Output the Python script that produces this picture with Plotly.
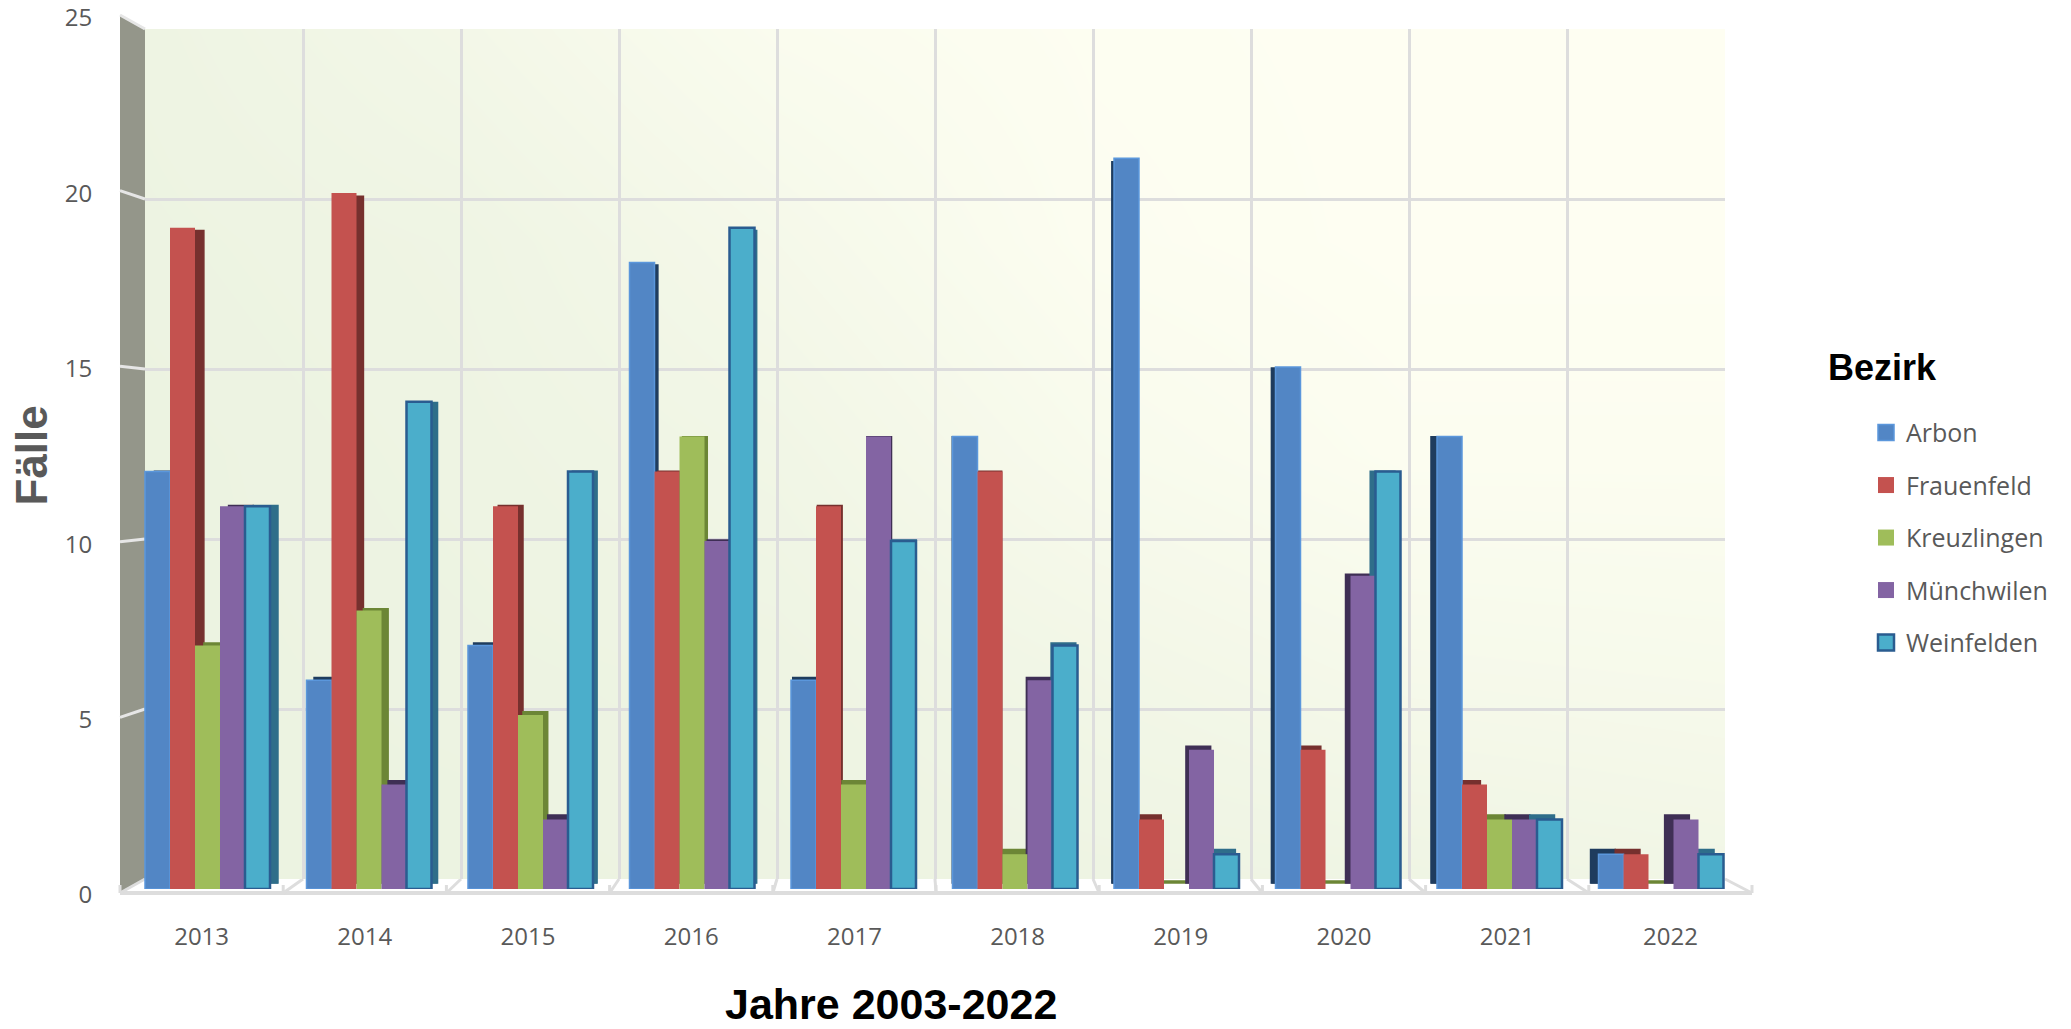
import plotly.graph_objects as go

YEARS = [2013, 2014, 2015, 2016, 2017, 2018, 2019, 2020, 2021, 2022]
DISTRICTS = ["Arbon", "Frauenfeld", "Kreuzlingen", "Münchwilen", "Weinfelden"]
ARBON = [12, 6, 7, 18, 6, 13, 21, 15, 13, 1]
FRAUENFELD = [19, 20, 11, 12, 11, 12, 2, 4, 3, 1]
KREUZLINGEN = [7, 8, 5, 13, 3, 1, 0, 0, 2, 0]
MUENCHWILEN = [11, 3, 2, 10, 13, 6, 4, 9, 2, 2]
WEINFELDEN = [11, 14, 12, 19, 10, 7, 1, 12, 2, 1]
SERIES = [ARBON, FRAUENFELD, KREUZLINGEN, MUENCHWILEN, WEINFELDEN]

FRONT = ["#5286C5", "#C4524F", "#9FBD5A", "#8364A3", "#4BAECB"]
SIDE = ["#1F3C5E", "#76302E", "#6C8636", "#3F2F55", "#2F6E8A"]
EDGE = ["#5B97DC", "#C4524F", "#9FBD5A", "#8364A3", "#2A5C90"]
EDGE_W = [1.5, 0, 0, 0, 2.5]

# back wall tint, rows top to bottom (0 = green-grey, 1 = pale yellow)
WALL_TINT = [
    [.15, .40, .75, .90, .95, .95],
    [.10, .20, .50, .85, .95, .95],
    [.05, .15, .30, .65, .85, .85],
    [.05, .10, .15, .35, .55, .60],
    [.05, .05, .10, .15, .20, .30],
]

W, H = 2071, 1029
px = lambda x: x / W
py = lambda y: 1 - y / H
CX, CY, K = 935, 454, 0.988   # vanishing centre and bar depth ratio
GRID = "#DDDDDD"
TEXT = "#595959"
BAR_W = 25 / 161.5

# plane boxes in pixels: left, right, bottom(value 0), top(value 25)
WALL = (145, 1725, 879, 29)
OUTER = (120, 1752, 893, 15)
BAR_FRONT = (126.75, 1741.75, 889, 19)
BAR_BACK = (CX + (BAR_FRONT[0] - CX) * K, CX + (BAR_FRONT[1] - CX) * K,
            CY + (BAR_FRONT[2] - CY) * K, CY + (BAR_FRONT[3] - CY) * K)
LABELS = (120, 1752, 895, 18)

XR = [YEARS[0] - .5, YEARS[-1] + .5]
YR = [0, 25]


def axes(box, n, **extra):
    sx = "" if n == 1 else str(n)
    xa = dict(domain=[px(box[0]), px(box[1])], range=XR, visible=False, anchor="y" + sx, fixedrange=True)
    ya = dict(domain=[py(box[2]), py(box[3])], range=YR, visible=False, anchor="x" + sx, fixedrange=True)
    return {"xaxis" + sx: xa, "yaxis" + sx: ya}


fig = go.Figure()
layout_axes = {}
layout_axes.update(axes(WALL, 1))
layout_axes.update(axes(WALL, 2))
layout_axes.update(axes(BAR_BACK, 3))
layout_axes.update(axes(BAR_FRONT, 4))
layout_axes.update(axes(LABELS, 5))

# wall tint
nx, ny = len(WALL_TINT[0]), len(WALL_TINT)
fig.add_trace(go.Heatmap(
    x=[XR[0] + (XR[1] - XR[0]) * i / (nx - 1) for i in range(nx)],
    y=[YR[1] - (YR[1] - YR[0]) * j / (ny - 1) for j in range(ny)],
    z=WALL_TINT, zmin=0, zmax=1, zsmooth="best", showscale=False, hoverinfo="skip",
    colorscale=[[0, "#EBF2E0"], [1, "#FFFFF3"]], xaxis="x", yaxis="y"))

# wall grid
layout_axes["xaxis2"].update(visible=True, showticklabels=False, ticks="", showline=False, zeroline=False,
                             tick0=XR[0], dtick=1, showgrid=True, gridcolor=GRID, gridwidth=3)
layout_axes["yaxis2"].update(visible=True, showticklabels=False, ticks="", showline=False, zeroline=False,
                             tick0=0, dtick=5, showgrid=True, gridcolor=GRID, gridwidth=3)
fig.add_trace(go.Scatter(x=[None], y=[None], xaxis="x2", yaxis="y2", showlegend=False, hoverinfo="skip"))

for i, (name, vals) in enumerate(zip(DISTRICTS, SERIES)):
    off = (i - 2.5) * BAR_W
    fig.add_trace(go.Bar(x=YEARS, y=vals, offset=off, width=BAR_W, xaxis="x3", yaxis="y3",
                         marker=dict(color=SIDE[i], line=dict(color=SIDE[i], width=[7 if v == 0 else 1.5 for v in vals])),
                         showlegend=False, legendgroup=name, hoverinfo="skip"))
for i, (name, vals) in enumerate(zip(DISTRICTS, SERIES)):
    off = (i - 2.5) * BAR_W
    fig.add_trace(go.Bar(x=YEARS, y=vals, offset=off, width=BAR_W, xaxis="x4", yaxis="y4", name=name,
                         marker=dict(color=FRONT[i], line=dict(color=EDGE[i], width=EDGE_W[i])),
                         showlegend=False, legendgroup=name))

# labels plane
layout_axes["xaxis5"].update(visible=True, tickmode="array", tickvals=YEARS, ticktext=[str(y) for y in YEARS],
                             showgrid=False, zeroline=False, showline=False, ticks="outside", ticklen=20,
                             tickcolor="rgba(0,0,0,0)", tickfont=dict(family="Open Sans", size=24, color=TEXT))
layout_axes["yaxis5"].update(visible=True, tick0=0, dtick=5, showgrid=False, zeroline=False, showline=False,
                             ticks="outside", ticklen=22, tickcolor="rgba(0,0,0,0)",
                             tickfont=dict(family="Open Sans", size=24, color=TEXT))
fig.add_trace(go.Scatter(x=[None], y=[None], xaxis="x5", yaxis="y5", showlegend=False, hoverinfo="skip"))

# legend proxies
for i, name in enumerate(DISTRICTS):
    fig.add_trace(go.Scatter(x=[None], y=[None], xaxis="x5", yaxis="y5", mode="markers", name=name, legendgroup=name,
                             marker=dict(symbol="square", size=16, color=FRONT[i],
                                         line=dict(color=EDGE[i], width=max(EDGE_W[i], .01)))))

# side wall and floor
shapes = [dict(type="path", xref="paper", yref="paper", layer="below", line_width=0, fillcolor="#94968A",
               path=f"M{px(OUTER[0])},{py(OUTER[3])} L{px(WALL[0])},{py(WALL[3])} L{px(WALL[0])},{py(WALL[2])} "
                    f"L{px(OUTER[0])},{py(OUTER[2])} Z")]


def seg(x0, y0, x1, y1, color=GRID, width=3):
    return dict(type="line", xref="paper", yref="paper", layer="below", x0=px(x0), y0=py(y0), x1=px(x1), y1=py(y1),
                line=dict(color=color, width=width))


shapes.append(seg(OUTER[0], OUTER[2], OUTER[1], OUTER[2], width=4))
for v in range(5, 26, 5):
    yf = OUTER[2] + (OUTER[3] - OUTER[2]) * v / 25
    yb = WALL[2] + (WALL[3] - WALL[2]) * v / 25
    shapes.append(seg(OUTER[0], yf, WALL[0], yb, color="#E6E6E6"))
for i in range(11):
    xf = OUTER[0] + (OUTER[1] - OUTER[0]) * i / 10
    xb = WALL[0] + (WALL[1] - WALL[0]) * i / 10
    shapes.append(seg(xb, WALL[2], xf, OUTER[2]))
    shapes.append(seg(xf, OUTER[2] - 8, xf, OUTER[2]))

annotations = [
    dict(text="Fälle", xref="paper", yref="paper", x=px(30.5), y=py(456), textangle=-90, showarrow=False,
         xanchor="center", yanchor="middle", font=dict(family="Liberation Sans", size=44, color=TEXT, weight="bold")),
    dict(text="Jahre 2003-2022", xref="paper", yref="paper", x=px(891), y=py(1004), showarrow=False,
         xanchor="center", yanchor="middle", font=dict(family="Liberation Sans", size=43, color="#000000", weight="bold")),
]

fig.update_layout(
    width=W, height=H, margin=dict(l=0, r=0, t=0, b=0, autoexpand=False), autosize=False,
    paper_bgcolor="#FFFFFF", plot_bgcolor="rgba(0,0,0,0)", barmode="overlay",
    shapes=shapes, annotations=annotations,
    legend=dict(x=px(1826), y=py(350), xanchor="left", yanchor="top", bgcolor="rgba(0,0,0,0)",
                title=dict(text="<span style='font-size:36px;font-weight:bold'>Bezirk</span><br> ",
                           font=dict(family="Liberation Sans", size=23, color="#000000")),
                font=dict(family="Open Sans", size=25, color=TEXT), indentation=40, tracegroupgap=17,
                itemsizing="trace", itemclick=False, itemdoubleclick=False),
    **layout_axes,
)

fig.write_html("out.html", config={"displayModeBar": False}, post_script="document.body.style.margin='0';")
